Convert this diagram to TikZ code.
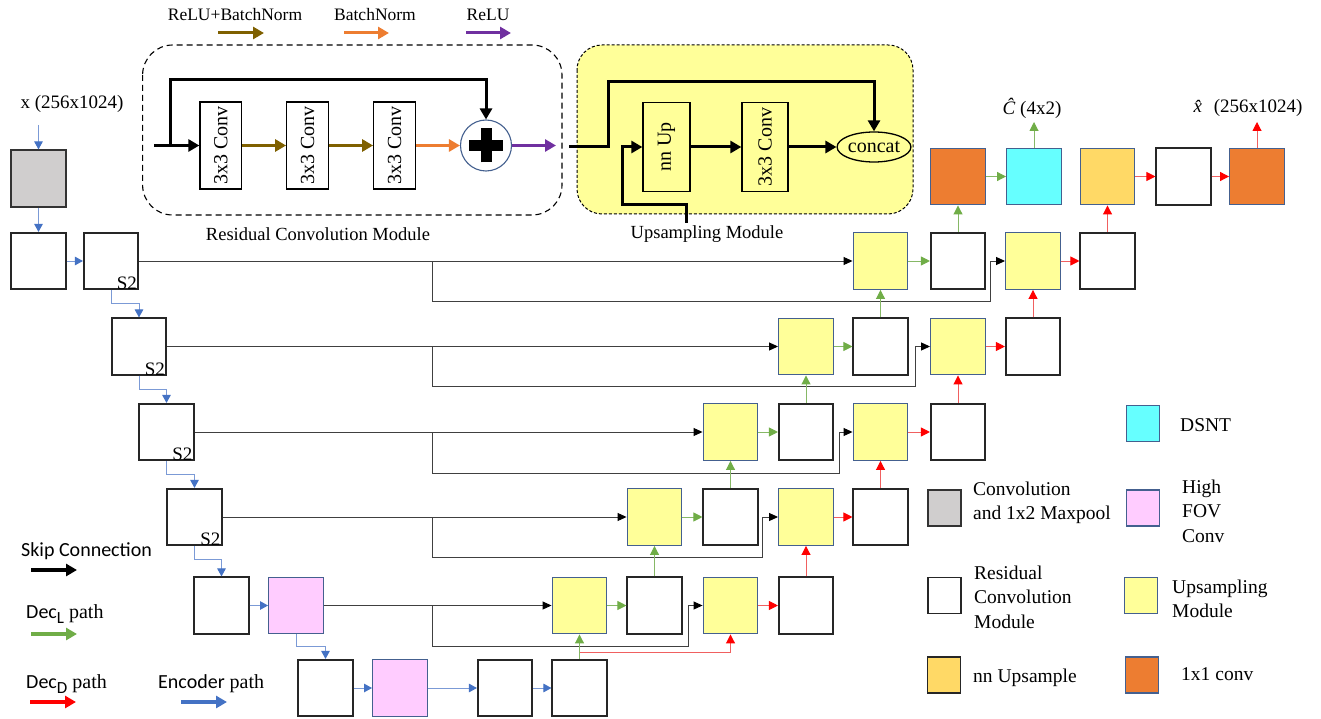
\documentclass[tikz,border=0pt]{standalone}
\usepackage{fontspec}
\setmainfont{Liberation Serif}
\newfontfamily\calibfont{Carlito}
\usetikzlibrary{arrows.meta,shapes.geometric}
\newcommand\myfs[1]{\fontsize{#1}{#1}\selectfont}
\definecolor{upy}{HTML}{FFFF99}
\definecolor{cyanb}{HTML}{66FFFF}
\definecolor{orb}{HTML}{ED7D31}
\definecolor{goldb}{HTML}{FFD966}
\definecolor{pinkb}{HTML}{FFCCFF}
\definecolor{grayb}{HTML}{D0CECE}
\definecolor{bord}{HTML}{44608F}
\definecolor{gr}{HTML}{70AD47}
\definecolor{grl}{HTML}{86B866}
\definecolor{rd}{HTML}{FF0000}
\definecolor{rdl}{HTML}{F06060}
\definecolor{bl}{HTML}{4472C4}
\definecolor{bll}{HTML}{7B9AD6}
\definecolor{brn}{HTML}{7F6000}
\definecolor{org}{HTML}{ED7D31}
\definecolor{pur}{HTML}{7030A0}
\begin{document}
\begin{tikzpicture}[x=1pt,y=-1pt,
  bx/.style={draw, minimum width=54.5pt, minimum height=56.5pt, inner sep=0pt, line width=1.6pt},
  wb/.style={bx, draw=black!85, fill=white},
  yb/.style={bx, draw=bord, fill=upy, line width=1.4pt},
  ob/.style={bx, draw=bord, fill=orb, line width=1.4pt},
  cyb/.style={bx, draw=bord, fill=cyanb, line width=1.4pt},
  gdb/.style={bx, draw=bord, fill=goldb, line width=1.4pt},
  pkb/.style={bx, draw=bord, fill=pinkb, line width=1.4pt},
  gyb/.style={bx, draw=black!80, fill=grayb},
  lb/.style={draw, minimum width=33pt, minimum height=36pt, inner sep=0pt, line width=1.6pt},
  cb/.style={draw, fill=white, line width=1.3pt, inner sep=0pt, font=\myfs{20}},
  skA/.style={draw=black!75, line width=0.9pt, -{Triangle[length=9pt,width=8pt,color=black]}},
  gA/.style={draw=grl, line width=1pt, -{Triangle[length=9pt,width=9pt,color=gr]}},
  rA/.style={draw=rdl, line width=1pt, -{Triangle[length=9pt,width=9pt,color=rd]}},
  enA/.style={draw=bll, line width=1pt, -{Triangle[length=8pt,width=8.5pt,color=bl]}},
  thkA/.style={draw=black, line width=3pt, -{Triangle[length=11pt,width=12pt]}},
  colA/.style={line width=3pt, -{Triangle[length=11pt,width=12pt]}},
  lgA/.style={line width=3.5pt, -{Triangle[length=11pt,width=12pt]}},
  s2/.style={anchor=south east, inner sep=1pt, font=\myfs{19}},
  txt/.style={font=\myfs{18.5}},
  lgt/.style={anchor=west, align=left, font=\fontsize{19.5}{24.5}\selectfont, inner sep=0pt}
]
\useasboundingbox (0,0) rectangle (1321,719);

% ---------- top legend ----------
\node[font=\myfs{17.5}] (lrb) at (235,15) {ReLU+BatchNorm};
\node[font=\myfs{17.5}] (lbn) at (375,15) {BatchNorm};
\node[font=\myfs{17.5}] (lre) at (488,15) {ReLU};
\draw[colA, brn] (218,33) coordinate (la1) -- (264,33) coordinate (la2);
\draw[colA, org] (344,33) coordinate (lb1) -- (389,33) coordinate (lb2);
\draw[colA, pur] (466,33) coordinate (lc1) -- (511,33) coordinate (lc2);

% ---------- residual convolution module ----------
\draw[dash pattern=on 6pt off 4pt, line width=1.1pt, rounded corners=30pt] (142.6,45) rectangle (562,215);
\node[cb, minimum width=41.5pt, minimum height=87pt] (rc1) at (220.75,145.5) {\rotatebox{90}{3x3 Conv}};
\node[cb, minimum width=41.5pt, minimum height=87pt] (rc2) at (307.5,145.5) {\rotatebox{90}{3x3 Conv}};
\node[cb, minimum width=41.5pt, minimum height=87pt] (rc3) at (394.5,145.5) {\rotatebox{90}{3x3 Conv}};
\node[circle, draw=bord, fill=white, line width=1.1pt, minimum size=51pt, inner sep=0pt] (plus) at (486,145.5) {};
\draw[line width=11pt] ([xshift=-17pt]plus.center) -- ([xshift=17pt]plus.center);
\draw[line width=11pt] ([yshift=-17pt]plus.center) -- ([yshift=17pt]plus.center);
\coordinate (rin) at (154,145.5);
\coordinate (rsk) at (170,145.5);
\coordinate (rout) at (556,145.5);
\draw[thkA] (rin) -- (rc1.west);
\draw[thkA] (rsk) -- (170,80) -| (plus.north);
\draw[colA, brn] (rc1) -- (rc2);
\draw[colA, brn] (rc2) -- (rc3);
\draw[colA, org] (rc3) -- (plus);
\draw[colA, pur] (plus) -- (rout);
\node[txt] (rcml) at (318,234) {Residual Convolution Module};

% ---------- upsampling module ----------
\draw[fill=upy, dash pattern=on 3pt off 2pt, line width=1pt, rounded corners=25pt] (577,45) rectangle (913,214);
\node[cb, fill=upy, minimum width=47pt, minimum height=89pt] (nnu) at (666.5,147) {\rotatebox{90}{nn Up}};
\node[cb, fill=upy, minimum width=46pt, minimum height=89pt] (up3) at (765,147) {\rotatebox{90}{3x3 Conv}};
\node[ellipse, draw, fill=upy, line width=1.3pt, minimum width=70pt, minimum height=30pt, inner sep=0pt, font=\myfs{20}] (cc) at (874,147) {concat};
\coordinate (uin) at (569,147);
\coordinate (uin2) at (686,223);
\draw[thkA] (uin) -- (608,147) -- (608,82) -| (cc.north);
\draw[thkA] (uin2) -- (686,205) -- (622,205) |- (nnu.west);
\draw[thkA] (nnu) -- (up3);
\draw[thkA] (up3) -- (cc);
\node[txt] (upml) at (707,234) {Upsampling Module};

% ---------- encoder ----------
\node[font=\myfs{19}] (xlab) at (72,104) {x (256x1024)};
\coordinate (xin) at (38.5,125);
\node[gyb] (g0) at (38.5,178.5) {};
\node[wb] (e1a) at (38.5,261) {};
\node[wb] (e1b) at (111,261) {};
\node[wb] (e2) at (139,346.5) {};
\node[wb] (e3) at (166.5,432) {};
\node[wb] (e4) at (194.5,517) {};
\node[wb] (e5a) at (221.5,605.5) {};
\node[pkb] (e5b) at (296,605.5) {};
\node[wb] (e6a) at (325.5,688) {};
\node[pkb] (e6b) at (400,688) {};
\node[wb] (e6c) at (505,688) {};
\node[wb] (e6d) at (579.5,688) {};
\node[s2] (s2a) at ([xshift=-1pt,yshift=-1pt]e1b.south east) {S2};
\node[s2] (s2b) at ([xshift=-1pt,yshift=-1pt]e2.south east) {S2};
\node[s2] (s2c) at ([xshift=-1pt,yshift=-1pt]e3.south east) {S2};
\node[s2] (s2d) at ([xshift=-1pt,yshift=-1pt]e4.south east) {S2};

\draw[enA] (xin) -- (g0.north);
\draw[enA] (g0) -- (e1a);
\draw[enA] (e1a) -- (e1b);
\draw[enA] (e1b.south) -- ++(0,13) -| (e2.north);
\draw[enA] (e2.south) -- ++(0,14) -| (e3.north);
\draw[enA] (e3.south) -- ++(0,13) -| (e4.north);
\draw[enA] (e4.south) -- ++(0,13) -| (e5a.north);
\draw[enA] (e5a) -- (e5b);
\draw[enA] (e5b.south) -- ++(0,12) -| (e6a.north);
\draw[enA] (e6a) -- (e6b);
\draw[enA] (e6b) -- (e6c);
\draw[enA] (e6c) -- (e6d);

% ---------- decoder ----------
\node[yb] (u5) at (579.5,605.5) {};
\node[wb] (w5) at (654.5,605.5) {};
\node[yb] (d5) at (730.5,605.5) {};
\node[wb] (v5) at (806,605.5) {};
\node[yb] (u4) at (654.5,517) {};
\node[wb] (w4) at (730.5,517) {};
\node[yb] (d4) at (806,517) {};
\node[wb] (v4) at (880.5,517) {};
\node[yb] (u3) at (730.5,432) {};
\node[wb] (w3) at (806,432) {};
\node[yb] (d3) at (880.5,432) {};
\node[wb] (v3) at (958,432) {};
\node[yb] (u2) at (806,346.5) {};
\node[wb] (w2) at (880.5,346.5) {};
\node[yb] (d2) at (958,346.5) {};
\node[wb] (v2) at (1033,346.5) {};
\node[yb] (u1) at (880.5,261) {};
\node[wb] (w1) at (958,261) {};
\node[yb] (d1) at (1033,261) {};
\node[wb] (v1) at (1107.5,261) {};
\node[ob] (o1) at (958,176.5) {};
\node[cyb] (cy) at (1034,176.5) {};
\node[gdb] (nn) at (1107.5,176.5) {};
\node[wb] (wt) at (1183.5,176.5) {};
\node[ob] (o2) at (1257,176.5) {};

% skip connections
\coordinate (k1) at (432,261);   \coordinate (t1) at (990.6,301.7);
\coordinate (k2) at (432,346.5); \coordinate (t2) at (915.6,386.7);
\coordinate (k3) at (432,432);   \coordinate (t3) at (839.7,473.5);
\coordinate (k4) at (432,517);   \coordinate (t4) at (762,557);
\coordinate (k5) at (432,605.5); \coordinate (t5) at (688,646.7);
\draw[skA] (e1b.east) -- (u1.west);
\draw[skA] (e2.east) -- (u2.west);
\draw[skA] (e3.east) -- (u3.west);
\draw[skA] (e4.east) -- (u4.west);
\draw[skA] (e5b.east) -- (u5.west);
\draw[skA] (k1) |- (t1) |- (d1.west);
\draw[skA] (k2) |- (t2) |- (d2.west);
\draw[skA] (k3) |- (t3) |- (d3.west);
\draw[skA] (k4) |- (t4) |- (d4.west);
\draw[skA] (k5) |- (t5) |- (d5.west);

% Dec_L path
\draw[gA] (e6d) -- (u5);
\draw[gA] (u5) -- (w5);
\draw[gA] (w5) -- (u4);
\draw[gA] (u4) -- (w4);
\draw[gA] (w4) -- (u3);
\draw[gA] (u3) -- (w3);
\draw[gA] (w3) -- (u2);
\draw[gA] (u2) -- (w2);
\draw[gA] (w2) -- (u1);
\draw[gA] (u1) -- (w1);
\draw[gA] (w1) -- (o1);
\draw[gA] (o1) -- (cy);
\coordinate (cyo) at (1034,122);
\draw[gA] (cy.north) -- (cyo);
\node[font=\myfs{19}] (clab) at (1032,108) {\textit{\^{C}}\ (4x2)};

% Dec_D path
\coordinate (rb) at (579.5,652);
\draw[rA] (rb) -| (d5.south);
\draw[rA] (d5) -- (v5);
\draw[rA] (v5) -- (d4);
\draw[rA] (d4) -- (v4);
\draw[rA] (v4) -- (d3);
\draw[rA] (d3) -- (v3);
\draw[rA] (v3) -- (d2);
\draw[rA] (d2) -- (v2);
\draw[rA] (v2) -- (d1);
\draw[rA] (d1) -- (v1);
\draw[rA] (v1) -- (nn);
\draw[rA] (nn) -- (wt);
\draw[rA] (wt) -- (o2);
\coordinate (o2o) at (1257,122);
\draw[rA] (o2.north) -- (o2o);
\node[font=\myfs{19}] (xhl) at (1248,108) {\textit{\^{x}}\ (256x1024)};

% ---------- left legend ----------
\node[anchor=west, inner sep=0pt, font=\calibfont\myfs{20}] (lsk) at (21,551) {Skip Connection};
\draw[lgA, black] (31,570) coordinate (ls1) -- (77,570) coordinate (ls2);
\node[anchor=west, inner sep=0pt, font=\myfs{20}] (ldl) at (26,614) {{\calibfont Dec\raisebox{-5pt}{\myfs{17}L}} path};
\draw[lgA, gr] (31,634) coordinate (lg1) -- (77,634) coordinate (lg2);
\node[anchor=west, inner sep=0pt, font=\myfs{20}] (ldd) at (26,684) {{\calibfont Dec\raisebox{-5pt}{\myfs{17}D}} path};
\draw[lgA, rd] (30,702) coordinate (lr1) -- (76,702) coordinate (lr2);
\node[anchor=west, inner sep=0pt, font=\myfs{20}] (len) at (158,684) {{\calibfont Encoder} path};
\draw[lgA, bl] (181,702) coordinate (le1) -- (227,702) coordinate (le2);

% ---------- right legend ----------
\node[lb, draw=bord, fill=cyanb] (kc) at (1143,423.5) {};
\node[lgt] (kct) at (1180,425) {DSNT};
\node[lb, draw=black!80, fill=grayb] (kg) at (944.5,508) {};
\node[lgt] (kgt) at (973,503) {Convolution\\and 1x2 Maxpool};
\node[lb, draw=bord, fill=pinkb] (kp) at (1143,508) {};
\node[lgt] (kpt) at (1182,511) {High\\FOV\\Conv};
\node[lb, draw=black!85, fill=white] (kw) at (944.5,595.5) {};
\node[lgt] (kwt) at (974,597) {Residual\\Convolution\\Module};
\node[lb, draw=bord, fill=upy] (ky) at (1141,595.5) {};
\node[lgt] (kyt) at (1172,599) {Upsampling\\Module};
\node[lb, draw=black!85, fill=goldb] (kd) at (944,675) {};
\node[lgt] (kdt) at (973,678) {nn Upsample};
\node[lb, draw=bord, fill=orb] (ko) at (1142,675) {};
\node[lgt] (kot) at (1181,674) {1x1 conv};
\end{tikzpicture}
\end{document}
